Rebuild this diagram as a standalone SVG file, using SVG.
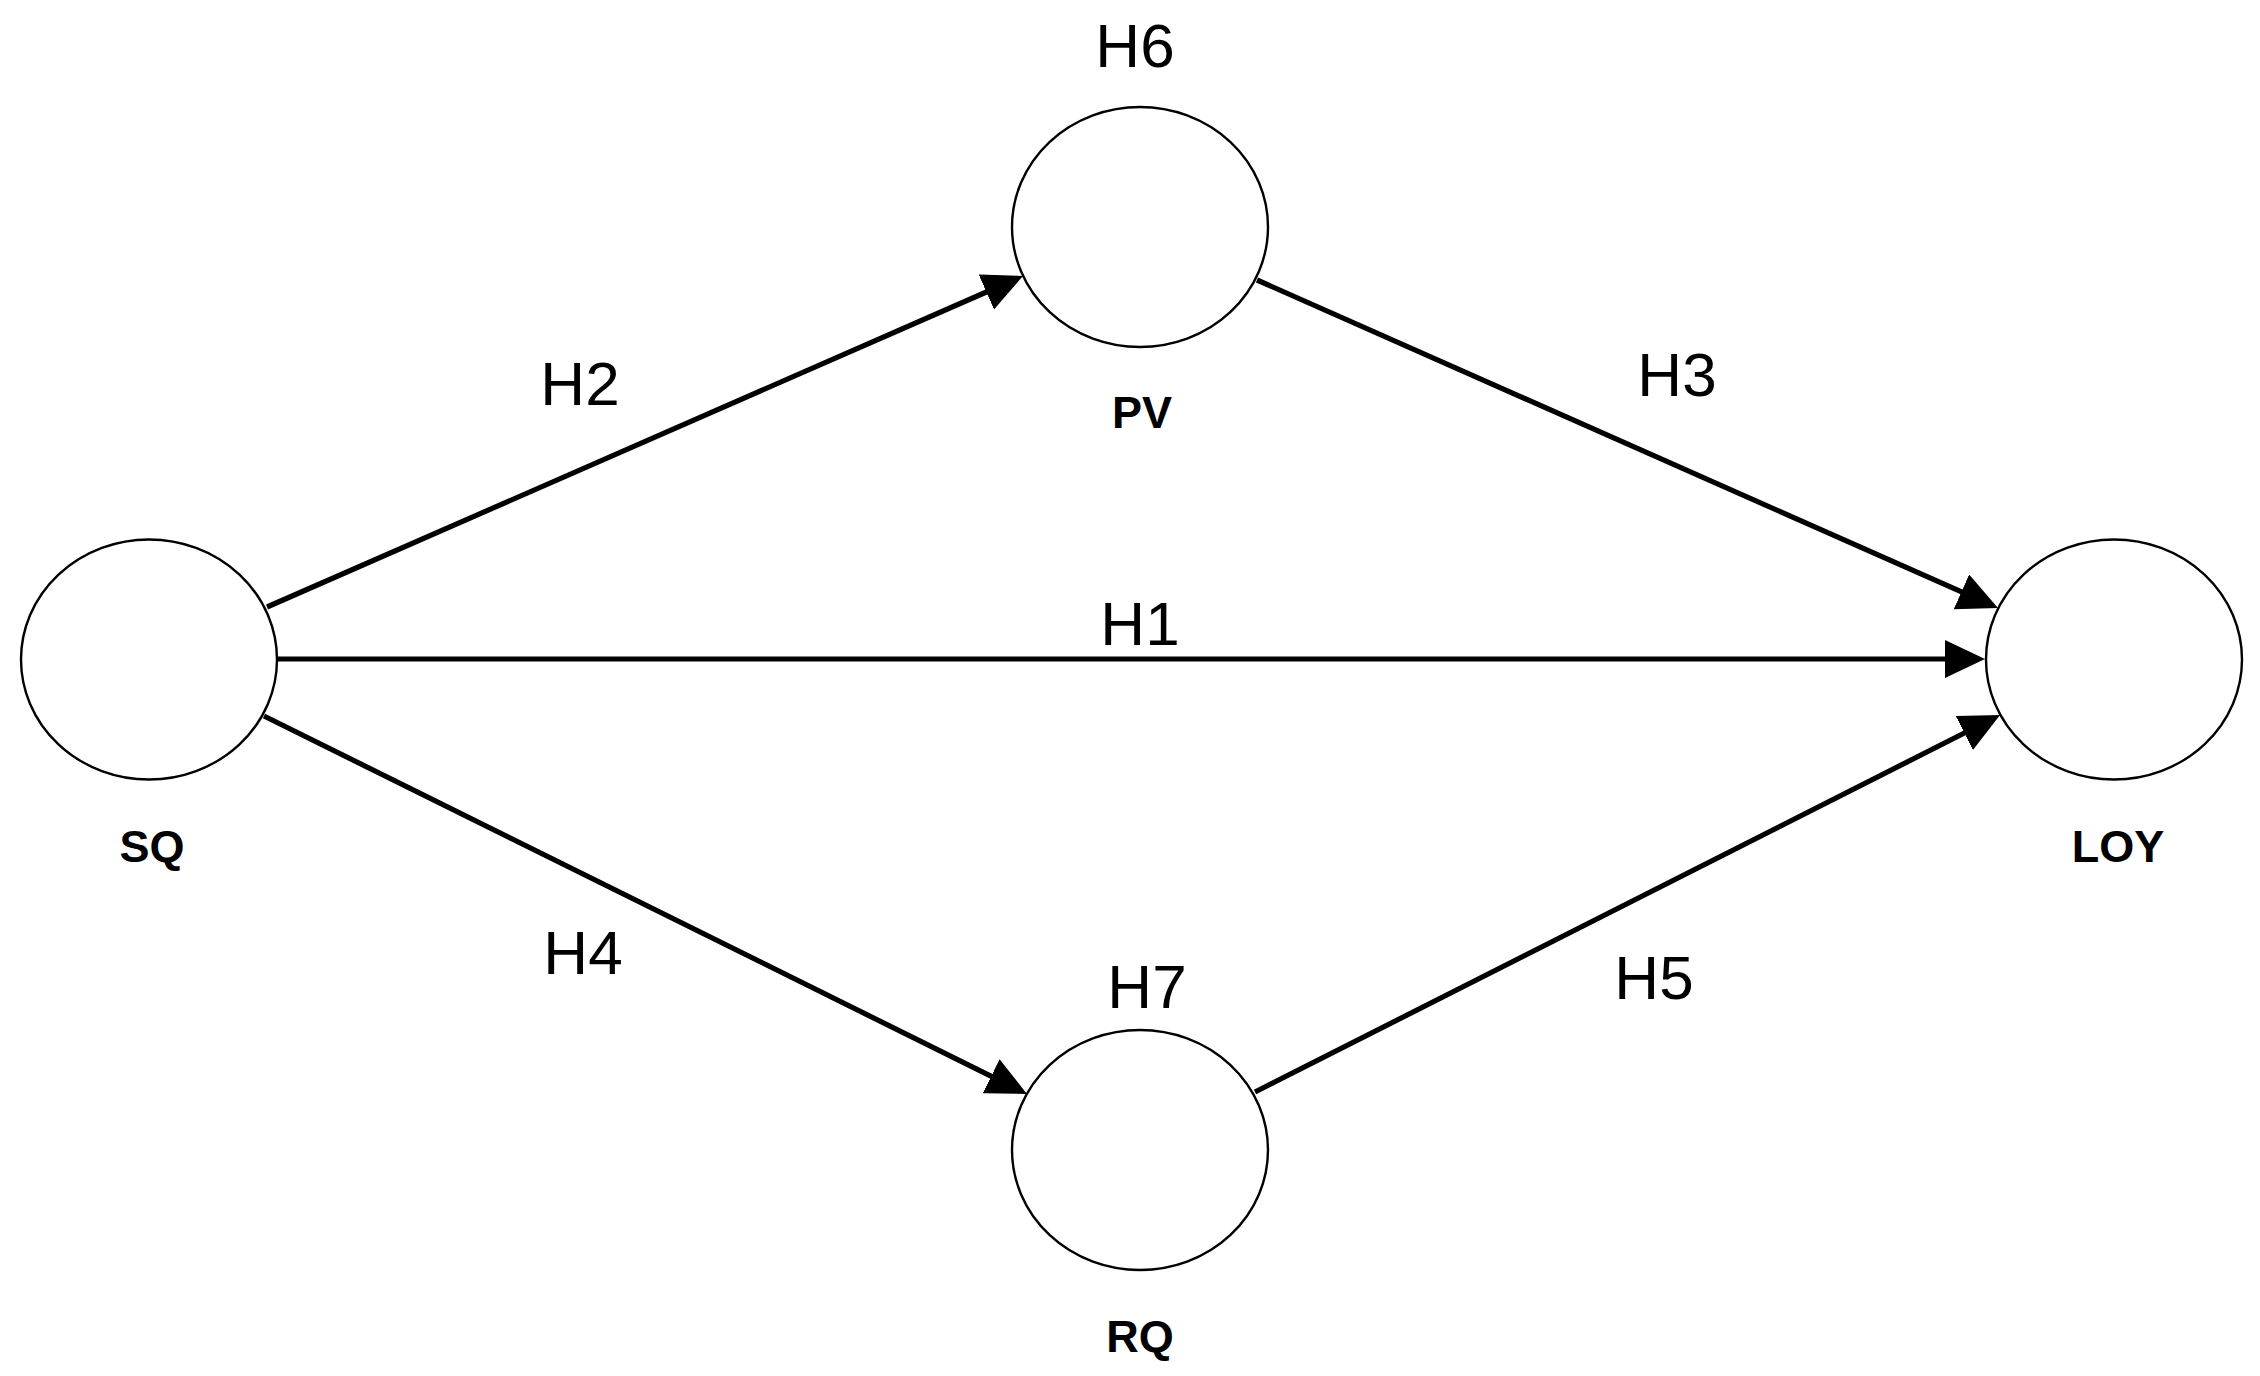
<svg xmlns="http://www.w3.org/2000/svg" width="2260" height="1376" viewBox="0 0 2260 1376">
<style>
.node{fill:#fff;stroke:#000;stroke-width:2.4}
.name{font-family:"Liberation Sans",Arial,sans-serif;font-weight:bold;font-size:45px;text-anchor:middle;fill:#000}
.hl{font-family:"Liberation Sans",Arial,sans-serif;font-size:62px;text-anchor:middle;fill:#000}
.edge{stroke:#000;stroke-width:5.2;fill:none;marker-end:url(#arr)}
</style>
<defs>
<marker id="arr" markerUnits="userSpaceOnUse" markerWidth="42" markerHeight="40" refX="20" refY="19" orient="auto" viewBox="0 0 42 40">
<path d="M0,0 L40,19 L0,38 Z" fill="#000"/>
</marker>
</defs>
<rect width="2260" height="1376" fill="#fff"/>
<g id="connectors">
<path class="edge" d="M277,659 L1965,659"/>
<path class="edge" d="M267,607 L1004.7,284"/>
<path class="edge" d="M1257,280 L1979.7,599.9"/>
<path class="edge" d="M264,716 L1009.1,1085.1"/>
<path class="edge" d="M1255,1092 L1982.2,724"/>
<text class="hl" x="1140" y="645">H1</text>
<text class="hl" x="580" y="405">H2</text>
<text class="hl" x="1677" y="396">H3</text>
<text class="hl" x="583" y="974">H4</text>
<text class="hl" x="1654" y="999">H5</text>
</g>
<g id="node-SQ">
<ellipse class="node" cx="149" cy="659.5" rx="128" ry="120"/>
<text class="name" x="152" y="862">SQ</text>
</g>
<g id="node-PV">
<ellipse class="node" cx="1140" cy="227" rx="128" ry="120"/>
<text class="hl" x="1135" y="67">H6</text>
<text class="name" x="1142" y="428">PV</text>
</g>
<g id="node-RQ">
<ellipse class="node" cx="1140" cy="1150" rx="128" ry="120"/>
<text class="hl" x="1147" y="1008">H7</text>
<text class="name" x="1140" y="1352">RQ</text>
</g>
<g id="node-LOY">
<ellipse class="node" cx="2114" cy="659.5" rx="128" ry="120"/>
<text class="name" x="2118" y="862">LOY</text>
</g>
</svg>
